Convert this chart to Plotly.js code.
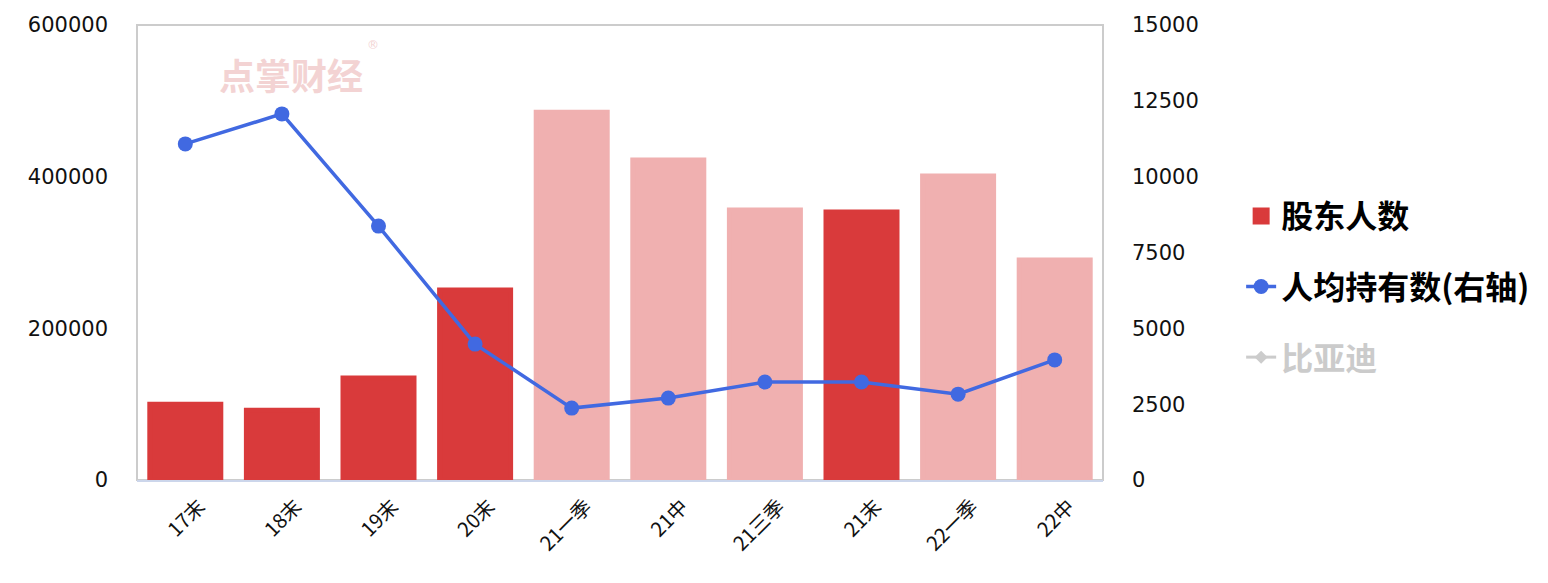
<!DOCTYPE html>
<html><head><meta charset="utf-8">
<script src="https://cdn.plot.ly/plotly-3.0.1.min.js"></script>
<style>html,body{margin:0;padding:0;background:#fff}#c{width:1548px;height:583px}</style>
</head><body><div id="c"></div>
<script>
const categories = ['17末','18末','19末','20末','21一季','21中','21三季','21末','22一季','22中'];
const holders = [100000, 92000, 134500, 250500, 485000, 422000, 356000, 353500, 401000, 290000];
const perHolder = [11080, 12070, 8370, 4480, 2370, 2700, 3230, 3230, 2830, 3960];
const barKinds = ['y','y','y','y','q','q','q','y','q','q'];
const biyadi = [null, null, null, null, null, null, null, null, null, null];
const leftTicks = [0, 200000, 400000, 600000];
const rightTicks = [0, 2500, 5000, 7500, 10000, 12500, 15000];

const dark = '#d93a3b', light = '#f0b0b0';
const tickFont = {family: 'DejaVu Sans, Noto Sans CJK SC', size: 21, color: '#111'};
const barColors = barKinds.map(k => k === 'y' ? dark : light);

const traces = [
  {type: 'bar', name: '股东人数', x: categories, y: holders,
   marker: {color: barColors, line: {color: barColors, width: 5}},
   legendgroup: 'a', hoverinfo: 'skip'},
  {type: 'scatter', mode: 'lines+markers', name: '人均持有数(右轴)', x: categories, y: perHolder,
   yaxis: 'y2', line: {color: '#4169e1', width: 3.5}, marker: {color: '#4169e1', size: 15},
   legendgroup: 'b', hoverinfo: 'skip', cliponaxis: false},
  {type: 'scatter', mode: 'lines+markers', name: '<span style="color:#999">比亚迪</span>', x: categories, y: biyadi,
   visible: 'legendonly', line: {color: '#999', width: 3}, marker: {color: '#999', symbol: 'diamond', size: 10},
   legendgroup: 'c'}
];

const layout = {
  width: 1548, height: 583,
  margin: {l: 137, r: 445, t: 25, b: 103},
  paper_bgcolor: '#fff', plot_bgcolor: '#fff',
  bargap: 0.265,
  showlegend: true,
  legend: {x: 1.143, xanchor: 'left', y: 0.425, yanchor: 'middle',
           font: {family: 'Noto Sans CJK SC', size: 32, color: '#000', weight: 'bold'},
           tracegroupgap: 26, traceorder: 'grouped', itemwidth: 30},
  xaxis: {type: 'category', range: [-0.5, 9.5], tickangle: -45,
          tickfont: {family: 'Noto Sans CJK SC, DejaVu Sans', size: 20, color: '#111'},
          ticklabelshift: 14, ticklabelstandoff: 5,
          showline: true, linecolor: '#ccd6eb', linewidth: 2, showgrid: false, ticks: '', zeroline: false},
  yaxis: {range: [0, 600000], tickvals: leftTicks, ticktext: leftTicks.map(String), tickfont: tickFont,
          showgrid: false, zeroline: false, showline: false, ticks: '', ticklabelstandoff: 28},
  yaxis2: {range: [0, 15000], tickvals: rightTicks, ticktext: rightTicks.map(String), tickfont: tickFont,
           overlaying: 'y', side: 'right', showgrid: false, zeroline: false, showline: false, ticks: '',
           ticklabelstandoff: 28},
  shapes: [{type: 'rect', xref: 'paper', yref: 'paper', x0: 0, x1: 1, y0: 0, y1: 1,
            line: {color: '#cccccc', width: 2}, layer: 'below'}],
  annotations: [
    {xref: 'paper', yref: 'paper', x: 0.083, y: 0.893, xanchor: 'left', yanchor: 'middle', showarrow: false,
     text: '<b>点掌财经</b>', font: {family: 'Noto Sans CJK SC', size: 36, color: '#f3d3d3'}},
    {xref: 'paper', yref: 'paper', x: 0.236, y: 0.955, xanchor: 'left', yanchor: 'middle', showarrow: false,
     text: '®', font: {family: 'DejaVu Sans', size: 12, color: '#f3d3d3'}}
  ]
};
Plotly.newPlot('c', traces, layout, {displayModeBar: false, staticPlot: true});
</script></body></html>
